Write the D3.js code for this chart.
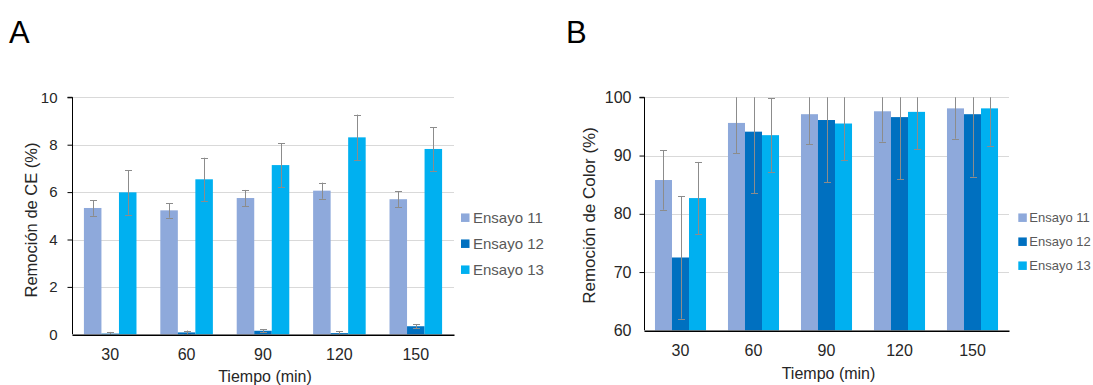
<!DOCTYPE html>
<html>
<head>
<meta charset="utf-8">
<script src="https://cdn.jsdelivr.net/npm/d3@7/dist/d3.min.js"></script>
<style>
  html, body { margin: 0; padding: 0; background: #fff; }
  svg { display: block; font-family: "Liberation Sans", Arial, sans-serif; }
</style>
</head>
<body>
<svg id="fig" width="1093" height="385"></svg>
<script>
// Sampling times (min) and trial names
const tiempos = ["30", "60", "90", "120", "150"];
const ensayos = ["Ensayo 11", "Ensayo 12", "Ensayo 13"];
const colores = ["#8EA9DB", "#0070C0", "#00B0F0"];

// Panel A: electrical conductivity removal (%)
const ceEnsayo11 = [5.33, 5.23, 5.75, 6.06, 5.70];
const ceEnsayo12 = [0.03, 0.08, 0.15, 0.05, 0.34];
const ceEnsayo13 = [5.99, 6.54, 7.14, 8.31, 7.82];
const ceError11 = [0.33, 0.31, 0.34, 0.34, 0.33];
const ceError12 = [0.07, 0.08, 0.07, 0.08, 0.08];
const ceError13 = [0.94, 0.91, 0.93, 0.96, 0.92];
const ceTicks = [0, 2, 4, 6, 8, 10];

// Panel B: colour removal (%)
const colorEnsayo11 = [85.8, 95.6, 97.1, 97.6, 98.1];
const colorEnsayo12 = [72.5, 94.1, 96.1, 96.6, 97.1];
const colorEnsayo13 = [82.7, 93.5, 95.5, 97.5, 98.1];
const colorError11 = [5.1, 5.2, 5.2, 5.2, 5.2];
const colorError12 = [10.5, 10.6, 10.7, 10.7, 10.7];
const colorError13 = [6.2, 6.3, 6.3, 6.4, 6.4];
const colorTicks = [60, 70, 80, 90, 100];

const svg = d3.select("#fig");

function panel(cfg) {
  const g = svg.append("g");
  const x0 = d3.scaleBand().domain(tiempos).range([cfg.left, cfg.right]).padding(0);
  const x1 = d3.scaleBand().domain(ensayos).range([0, x0.bandwidth()])
    .paddingInner(0).paddingOuter(cfg.groupPad);
  const y = d3.scaleLinear().domain(cfg.domain).range([cfg.bottom, cfg.top]);

  const clipId = "clip-" + cfg.id;
  g.append("clipPath").attr("id", clipId).append("rect")
    .attr("x", cfg.left).attr("y", cfg.top)
    .attr("width", cfg.right - cfg.left).attr("height", cfg.bottom - cfg.top);

  // horizontal gridlines
  g.append("g").selectAll("line").data(cfg.ticks.slice(1)).join("line")
    .attr("x1", cfg.left).attr("x2", cfg.right)
    .attr("y1", d => Math.round(y(d)) + 0.5).attr("y2", d => Math.round(y(d)) + 0.5)
    .attr("stroke", "#d9d9d9").attr("stroke-width", 1);

  const rows = ensayos.map((name, s) => tiempos.map((t, i) => ({
    t, name, s, v: cfg.values[s][i], e: cfg.errors[s][i]
  })));

  // bars
  g.append("g").selectAll("g").data(rows).join("g")
    .attr("fill", (d, s) => colores[s])
    .selectAll("rect").data(d => d).join("rect")
    .attr("x", d => x0(d.t) + x1(d.name))
    .attr("width", x1.bandwidth())
    .attr("y", d => y(d.v))
    .attr("height", d => y(cfg.domain[0]) - y(d.v));

  // error bars
  const eb = g.append("g").attr("clip-path", `url(#${clipId})`)
    .attr("stroke", "#8c8c8c").attr("stroke-width", 1).attr("fill", "none");
  const flat = rows.flat();
  const cx = d => Math.round(x0(d.t) + x1(d.name) + x1.bandwidth() / 2) + 0.5;
  eb.selectAll("line.v").data(flat).join("line").attr("class", "v")
    .attr("x1", cx).attr("x2", cx)
    .attr("y1", d => y(d.v - d.e)).attr("y2", d => y(d.v + d.e));
  ["lo", "hi"].forEach(k => {
    eb.selectAll("line." + k).data(flat).join("line").attr("class", k)
      .attr("x1", d => cx(d) - 3.5).attr("x2", d => cx(d) + 3.5)
      .attr("y1", d => Math.round(y(k === "lo" ? d.v - d.e : d.v + d.e)) + 0.5)
      .attr("y2", d => Math.round(y(k === "lo" ? d.v - d.e : d.v + d.e)) + 0.5);
  });

  // y axis
  const ya = g.append("g").attr("transform", `translate(${cfg.left + 0.5},0)`)
    .call(d3.axisLeft(y).tickValues(cfg.ticks).tickSize(5).tickPadding(cfg.yPad));
  ya.select(".domain").attr("stroke", "#000").attr("d", `M-5,${y(cfg.domain[1])}H0V${cfg.bottom}`);
  ya.selectAll(".tick line").attr("stroke", "#000");
  ya.selectAll("text").attr("font-size", cfg.yFont).attr("fill", "#262626")
    .attr("font-family", "Liberation Sans, Arial, sans-serif");
  ya.selectAll(".tick").filter(d => d === cfg.domain[0]).select("line").remove();

  // x axis
  const xa = g.append("g").attr("transform", `translate(0,${cfg.bottom + 0.5})`)
    .call(d3.axisBottom(x0).tickSize(0).tickPadding(cfg.xPad));
  xa.select(".domain").attr("stroke", "#000").attr("stroke-width", 1.5);
  xa.selectAll("text").attr("font-size", 16).attr("fill", "#262626")
    .attr("font-family", "Liberation Sans, Arial, sans-serif");

  // axis titles
  g.append("text").attr("x", (cfg.left + cfg.right) / 2 + 2).attr("y", cfg.xTitleY)
    .attr("text-anchor", "middle").attr("font-size", 16).attr("fill", "#262626")
    .text("Tiempo (min)");
  g.append("text").attr("transform", `translate(${cfg.yTitleX},${cfg.yTitleY}) rotate(-90)`)
    .attr("text-anchor", "middle").attr("font-size", cfg.yTitleFont).attr("fill", "#262626")
    .text(cfg.yTitle);

  // legend
  const lg = g.append("g").selectAll("g").data(ensayos).join("g")
    .attr("transform", (d, i) => `translate(${cfg.legX},${cfg.legY + i * cfg.legStep})`);
  lg.append("rect").attr("x", 0).attr("y", -4.25).attr("width", 8.5).attr("height", 8.5)
    .attr("fill", (d, i) => colores[i]);
  lg.append("text").attr("x", cfg.legTextDx).attr("y", 0).attr("dy", "0.36em")
    .attr("font-size", cfg.legFont).attr("fill", "#595959").text(d => d);

  // panel letter
  svg.append("text").attr("x", cfg.letterX).attr("y", 43).attr("font-size", 31)
    .attr("fill", "#000").text(cfg.letter);
}

panel({
  id: "a", letter: "A", letterX: 9,
  left: 72, right: 454, top: 97.3, bottom: 334.3, domain: [0, 10], ticks: ceTicks,
  values: [ceEnsayo11, ceEnsayo12, ceEnsayo13], errors: [ceError11, ceError12, ceError13],
  groupPad: 0.68, yFont: 15, yPad: 10, xPad: 14, xTitleY: 382,
  yTitle: "Remoción de CE (%)", yTitleX: 37, yTitleY: 220, yTitleFont: 16.5,
  legX: 461, legY: 217.7, legStep: 26, legTextDx: 12, legFont: 15
});

panel({
  id: "b", letter: "B", letterX: 566,
  left: 644, right: 1009, top: 97.3, bottom: 330.3, domain: [60, 100], ticks: colorTicks,
  values: [colorEnsayo11, colorEnsayo12, colorEnsayo13], errors: [colorError11, colorError12, colorError13],
  groupPad: 0.645, yFont: 16, yPad: 8, xPad: 14, xTitleY: 378.5,
  yTitle: "Remoción de Color (%)", yTitleX: 595, yTitleY: 215.5, yTitleFont: 17,
  legX: 1018.3, legY: 217.7, legStep: 24, legTextDx: 11, legFont: 13
});
</script>
</body>
</html>
